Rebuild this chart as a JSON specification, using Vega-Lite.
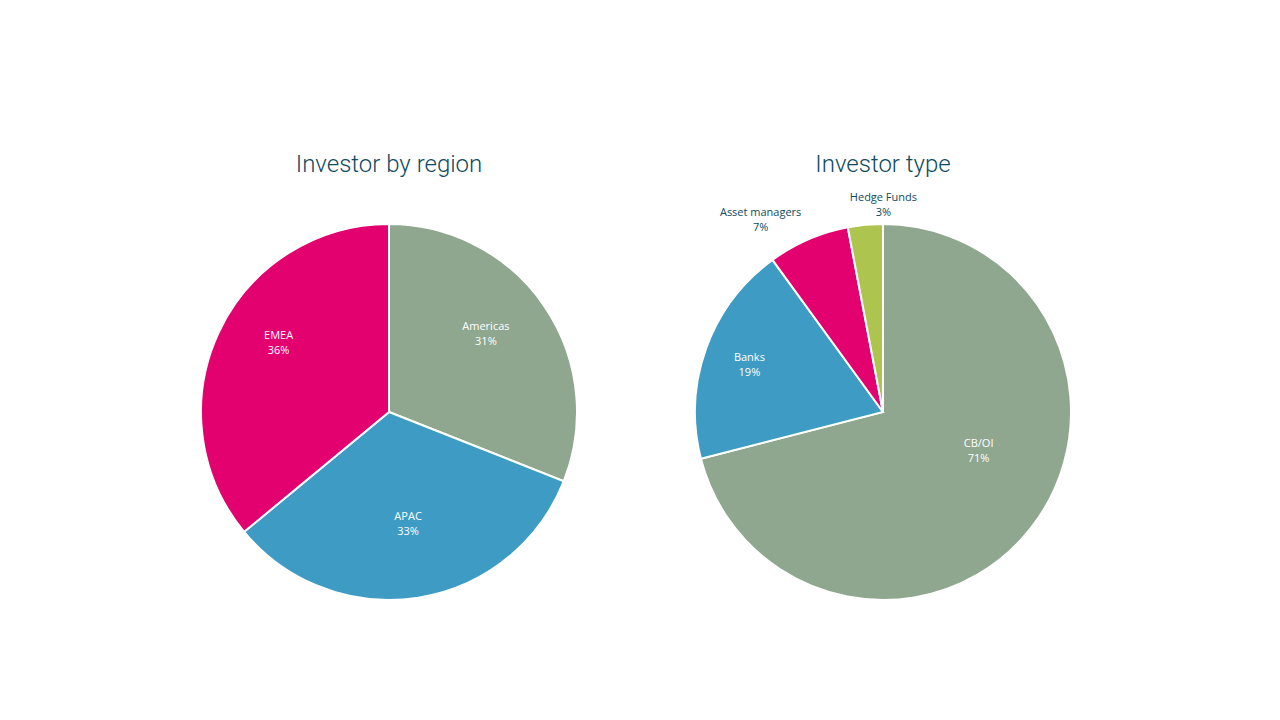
{
  "$schema": "https://vega.github.io/schema/vega-lite/v6.json",
  "background": "white",
  "padding": {"left": 169, "top": 152, "right": 0, "bottom": 0},
  "autosize": "pad",
  "config": {
    "view": {"stroke": null},
    "title": {"font": "Roboto", "fontSize": 24, "fontWeight": 300, "color": "#0F4A5E", "offset": 15}
  },
  "spacing": 54,
  "resolve": {"scale": {"color": "independent", "theta": "independent"}},
  "hconcat": [
    {
      "title": "Investor by region",
      "width": 440,
      "height": 440,
      "data": {"values": [
        {"cat": "Americas", "pct": 31, "ord": 1},
        {"cat": "APAC", "pct": 33, "ord": 2},
        {"cat": "EMEA", "pct": 36, "ord": 3}
      ]},
      "transform": [
        {"stack": "pct", "groupby": [], "sort": [{"field": "ord"}], "as": ["t0", "t1"]},
        {"calculate": "(datum.t0 + datum.t1) / 2", "as": "tm"},
        {"calculate": "[datum.cat, datum.pct + '%']", "as": "label"}
      ],
      "layer": [
        {
          "mark": {"type": "arc", "outerRadius": 188, "stroke": "white", "strokeWidth": 2},
          "encoding": {
            "theta": {"field": "t0", "type": "quantitative", "scale": {"domain": [0, 100]}},
            "theta2": {"field": "t1"},
            "color": {"field": "cat", "type": "nominal", "legend": null,
              "scale": {"domain": ["Americas", "APAC", "EMEA"], "range": ["#8FA68F", "#3D9BC4", "#E3006F"]}}
          }
        },
        {
          "transform": [{"filter": "datum.cat == 'Americas'"}],
          "mark": {"type": "text", "radius": 122, "font": "Open Sans", "fontSize": 11, "fill": "white", "lineHeight": 15, "dx": -4, "dy": -16},
          "encoding": {"theta": {"field": "tm", "type": "quantitative", "scale": {"domain": [0, 100]}}, "text": {"field": "label"}}
        },
        {
          "transform": [{"filter": "datum.cat == 'APAC'"}],
          "mark": {"type": "text", "radius": 122, "font": "Open Sans", "fontSize": 11, "fill": "white", "lineHeight": 15, "dy": -15},
          "encoding": {"theta": {"field": "tm", "type": "quantitative", "scale": {"domain": [0, 100]}}, "text": {"field": "label"}}
        },
        {
          "transform": [{"filter": "datum.cat == 'EMEA'"}],
          "mark": {"type": "text", "radius": 122, "font": "Open Sans", "fontSize": 11, "fill": "white", "lineHeight": 15, "dy": -24},
          "encoding": {"theta": {"field": "tm", "type": "quantitative", "scale": {"domain": [0, 100]}}, "text": {"field": "label"}}
        }
      ]
    },
    {
      "title": "Investor type",
      "width": 440,
      "height": 440,
      "data": {"values": [
        {"cat": "CB/OI", "pct": 71, "ord": 1},
        {"cat": "Banks", "pct": 19, "ord": 2},
        {"cat": "Asset managers", "pct": 7, "ord": 3},
        {"cat": "Hedge Funds", "pct": 3, "ord": 4}
      ]},
      "transform": [
        {"stack": "pct", "groupby": [], "sort": [{"field": "ord"}], "as": ["t0", "t1"]},
        {"calculate": "(datum.t0 + datum.t1) / 2", "as": "tm"},
        {"calculate": "[datum.cat, datum.pct + '%']", "as": "label"}
      ],
      "layer": [
        {
          "mark": {"type": "arc", "outerRadius": 188, "stroke": "white", "strokeWidth": 2},
          "encoding": {
            "theta": {"field": "t0", "type": "quantitative", "scale": {"domain": [0, 100]}},
            "theta2": {"field": "t1"},
            "color": {"field": "cat", "type": "nominal", "legend": null,
              "scale": {"domain": ["CB/OI", "Banks", "Asset managers", "Hedge Funds"], "range": ["#8FA68F", "#3D9BC4", "#E3006F", "#ADC54F"]}}
          }
        },
        {
          "transform": [{"filter": "datum.cat == 'CB/OI'"}],
          "mark": {"type": "text", "radius": 102, "font": "Open Sans", "fontSize": 11, "fill": "white", "lineHeight": 15, "dx": 15, "dy": -31},
          "encoding": {"theta": {"field": "tm", "type": "quantitative", "scale": {"domain": [0, 100]}}, "text": {"field": "label"}}
        },
        {
          "transform": [{"filter": "datum.cat == 'Banks'"}],
          "mark": {"type": "text", "radius": 142, "font": "Open Sans", "fontSize": 11, "fill": "white", "lineHeight": 15, "dy": -6},
          "encoding": {"theta": {"field": "tm", "type": "quantitative", "scale": {"domain": [0, 100]}}, "text": {"field": "label"}}
        },
        {
          "transform": [{"filter": "datum.cat == 'Asset managers'"}],
          "mark": {"type": "text", "radius": 225, "font": "Open Sans", "fontSize": 11, "fill": "#0F4A5E", "lineHeight": 15, "dx": -33, "dy": 7},
          "encoding": {"theta": {"field": "tm", "type": "quantitative", "scale": {"domain": [0, 100]}}, "text": {"field": "label"}}
        },
        {
          "transform": [{"filter": "datum.cat == 'Hedge Funds'"}],
          "mark": {"type": "text", "radius": 208, "font": "Open Sans", "fontSize": 11, "fill": "#0F4A5E", "lineHeight": 15, "dx": 20, "dy": -7},
          "encoding": {"theta": {"field": "tm", "type": "quantitative", "scale": {"domain": [0, 100]}}, "text": {"field": "label"}}
        }
      ]
    }
  ]
}
